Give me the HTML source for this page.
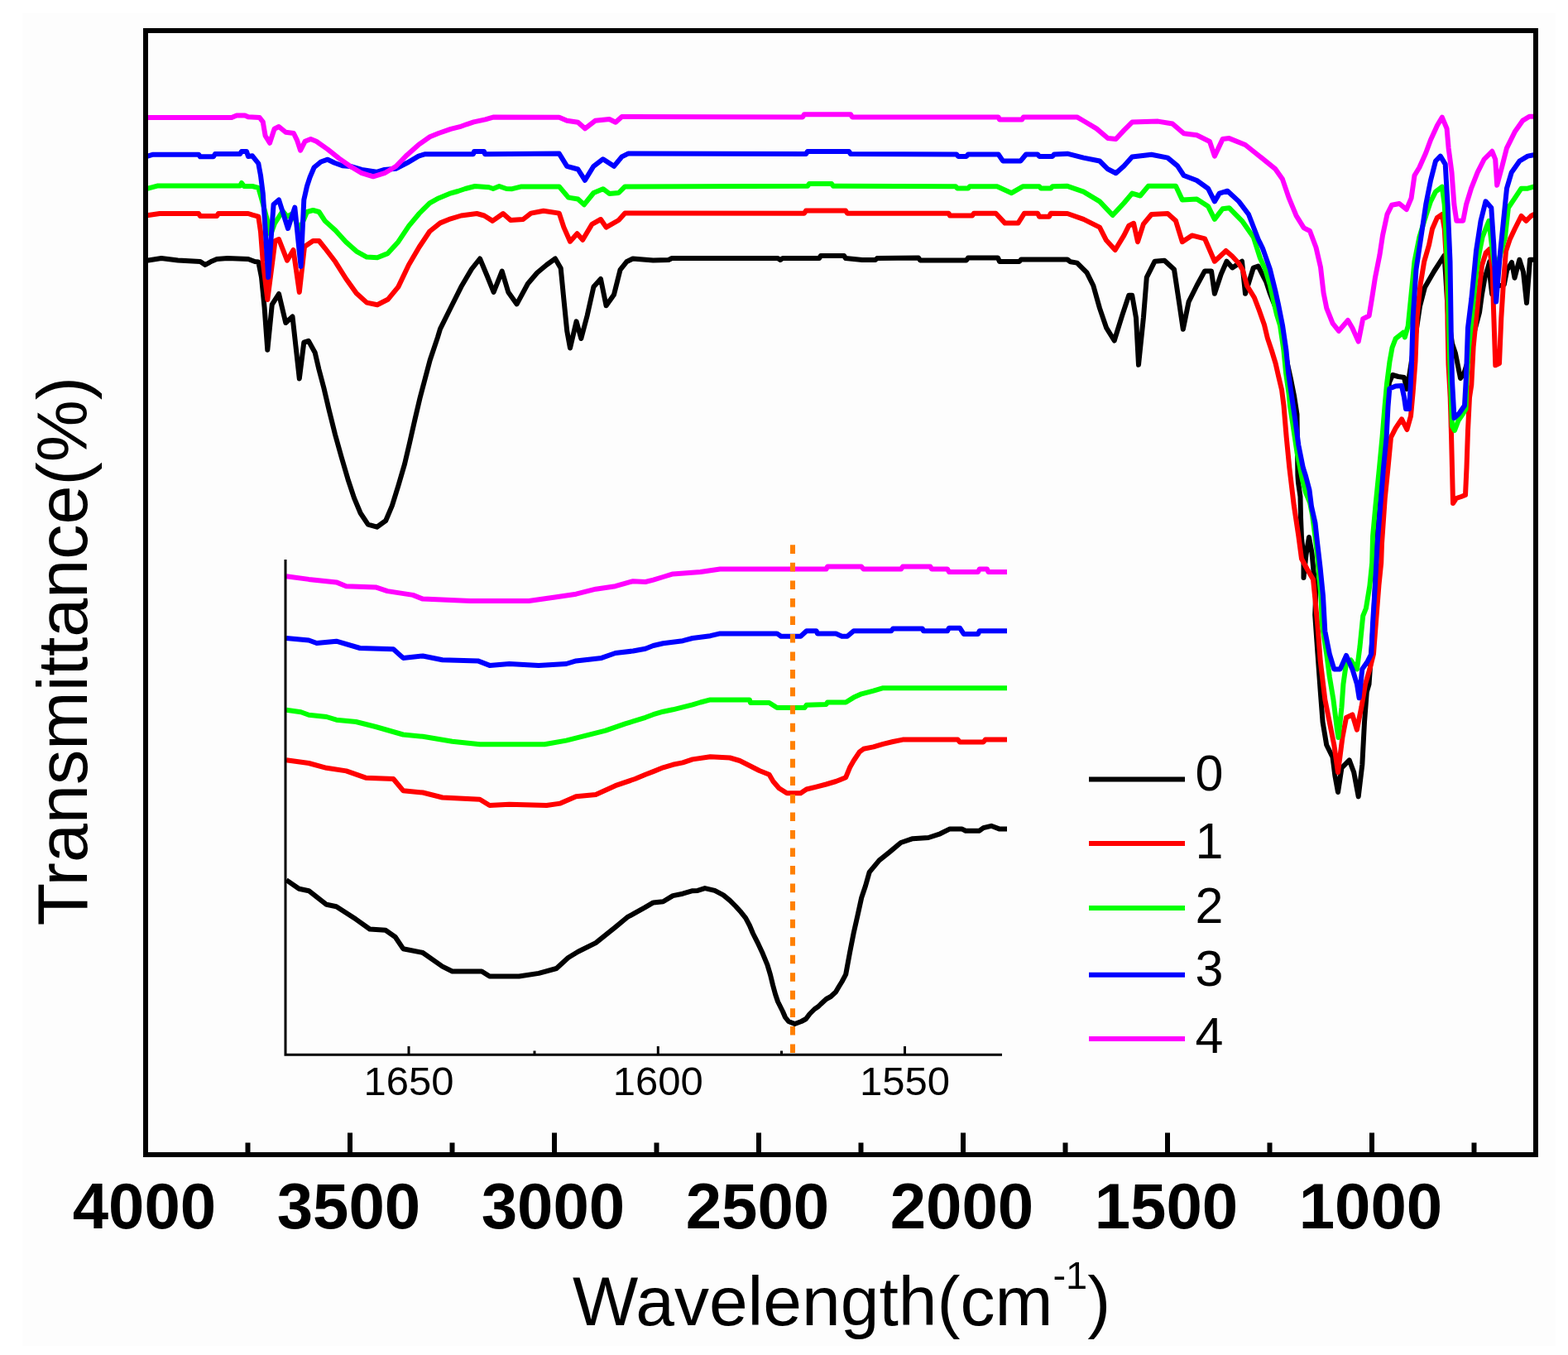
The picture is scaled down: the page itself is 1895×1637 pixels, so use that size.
<!DOCTYPE html>
<html><head><meta charset="utf-8"><title>FTIR spectra</title>
<style>html,body{margin:0;padding:0;background:#fff;width:1895px;height:1637px;overflow:hidden}svg{display:block}</style>
</head><body>
<svg width="1895" height="1637" viewBox="0 0 1895 1637" font-family="'Liberation Sans', Arial, sans-serif"><rect x="27" y="16" width="1853" height="1610" fill="#fdfdfd"/>
<polyline points="176,315 195,312 215,314.5 242,316 248,320 255,316 262,313 275,312 300,313 308,316 312.3,316.5 316,335 319.6,371.5 323.3,422.7 328.8,367.8 337,355 345.3,390 353.5,382.5 361.8,457.5 367.3,413.6 372.8,411.8 380.7,426 385.3,445.8 391.4,468.7 397.5,494.7 405.1,525.2 412.8,552.7 420.4,578.7 428,601.6 435.7,620 444.8,633.7 455.5,636.7 466.2,629 473.9,610.8 481.5,586.3 489.1,560.4 495.2,534.4 501.4,507 507.5,481 513.6,458 519.7,435 528.9,407.6 532,397.3 544.6,372 557.3,346.6 570,325 580,312.5 589,334 596.6,353 606.7,327.6 614.3,353 624.6,367.4 637.9,342.8 649.2,329.5 660.6,320 671,312.5 677.7,323.9 681.4,361.7 685.2,399.6 689,420.5 696.6,388.3 702.3,409 709.8,380.7 717.4,346.6 726,337 732.6,369.3 742,356 749.6,325.8 757.2,316.3 764.8,312.5 789.4,314.4 808,314 812,312 940,312 943,314 946,312 990,312 992,309 1020,309 1022,312 1042,314 1058,314 1060,312 1110,311.5 1112,314.4 1168,314.4 1170,311.5 1206,311.5 1208,316 1232,316 1234,313.5 1290,313.5 1293.7,316.3 1301.7,317.6 1313.5,329.4 1321.3,345 1329,372.4 1337,395.8 1346.7,411.5 1356.5,380.2 1364.3,356.7 1368.2,356.7 1373,384 1376,440.8 1381.9,384 1385.8,335.2 1395.6,315.7 1407.3,314.7 1419,325.5 1424.9,364.6 1429.8,397.8 1436.6,364.6 1446.4,345 1456,327.4 1464,327.4 1467.9,354.8 1475.7,331.3 1482.5,315.7 1489.4,323.5 1501,315.7 1505,354.8 1514.8,323.5 1520.6,321.6 1530.4,341 1535,355 1541.6,371.7 1546,385 1549.5,400 1552.5,420 1556,440 1560,458 1564,478 1567.5,500.8 1568.4,574 1569,583 1571.5,600 1572,625 1573,650 1575.5,672 1575.5,698 1578.5,670 1582,649 1585.5,668 1587.5,690 1590.5,712 1589.2,743 1592.5,790 1595.8,836 1598.6,872.6 1603.2,900 1610.5,914.7 1613.3,936.7 1617,957 1621.5,927.6 1630.7,918.4 1636.2,933 1641.7,962.4 1646.3,924 1649,872.6 1651.8,836 1654.5,826.7 1660,750 1666.5,607 1672,530 1676,490 1679,462 1683,453 1690,455 1697,456 1700,470 1703,455 1710,410 1716,370 1722,347 1733,328 1745.5,308.7 1747,330 1750,380 1755,415 1759,427 1765,457 1769,452 1776,430 1782,400 1788,377.5 1791,355.4 1794.5,335.7 1798,324 1800.3,316 1801,337 1803.2,355.4 1806,340 1812,345 1817.8,343.8 1821.2,326.4 1827,317 1830.5,335.7 1836.3,313.7 1841,328.7 1845,366 1849,313.7 1853,313.7" fill="none" stroke="#000000" stroke-width="6" stroke-linejoin="round"/>
<polyline points="176,260.5 193,258 240,258 242,261 262,261 264,258 300,258 305,259.7 312.3,261.6 315,280 317.8,316.5 323.3,362 332.5,291 337,289 347,314.7 354.5,302 361.8,353 368,298 378.3,291 385.6,291 392.7,299.8 405.3,316.3 418,336.5 430.7,354.2 443.3,365.6 456,368.2 468.7,361.8 481.3,346.6 494,320 506.6,298.5 519.3,279.5 532,269.4 544.6,264.3 557.3,260.5 576.3,258 585.2,260.5 595.3,266.9 608,258 617,266 632.2,265 641.7,257.6 656.8,254.7 675.8,257.6 681.4,274.6 689,291.7 697.5,282.2 704.2,289.8 715.5,270.8 726,265 732.6,274.6 747.7,266 755.3,257.6 972,257.7 974,254.6 1022,254.6 1024,257.7 1146.5,257.7 1148,260.6 1175,260.6 1177,257.7 1203.5,257.7 1214.6,269.6 1230.4,269.6 1238,257.7 1254,257.7 1256,261.7 1268,261.7 1270,257.7 1290,258 1309.5,264.9 1329,274.6 1337,290.3 1347.7,302 1358.4,284.4 1364.3,272.7 1370.1,269.8 1375,292.2 1381.9,270.7 1391.6,259 1411.2,258 1421,266.8 1428.8,292.2 1440.5,284.4 1456,288.3 1467.9,315.7 1481.6,303 1489.4,309.8 1497,318 1501.8,326 1507,345 1515.9,359.5 1522,375.4 1528,392.5 1531.8,408.4 1536.7,423 1541.6,439 1545.2,454.8 1549,470.7 1551.5,490 1554.7,528.3 1558.3,565 1563.8,610.8 1569.3,647.4 1573,675 1580,688 1587,700 1590,730 1592.2,753.4 1595.8,799.2 1601.3,845 1606.8,872.6 1612.3,900 1617,933 1622.4,891 1627,867 1634.4,863.4 1639.9,881.7 1645.4,854.2 1650,826.7 1655.4,808.4 1660,790 1662.8,753.4 1666.4,707.5 1669.2,680 1670,656.6 1673.8,601.6 1677.5,565 1681,528.3 1686.6,517.3 1694,506.3 1700.4,519 1705,502.6 1707.7,473.3 1710.5,436.7 1712.5,384 1716.4,345 1721.3,315.6 1727,296 1731,276.5 1736.9,262.9 1742.8,259 1745.7,276.5 1748.6,325.4 1749.6,393.8 1750.5,440 1752.7,480 1754,525 1756,608 1760,602 1766,600 1771,598 1772.5,565 1774,520 1776,480 1778.3,465 1780.6,419.3 1784,384.4 1787.6,349.6 1791,320.6 1795.7,305.5 1800.3,301 1803.8,326.4 1805,373 1807.3,441.3 1812,439 1814.3,384.4 1817.2,338 1820,303.2 1824.7,289.3 1830.7,276.5 1838.5,261 1844.4,266.8 1850.2,261 1856,258" fill="none" stroke="#ff0000" stroke-width="6" stroke-linejoin="round"/>
<polyline points="176,228.4 190,224.6 290,224.6 292,221 295,225 305,225 312.3,226.8 316,239.6 323.3,267 327,283.5 332,270 341.6,255 347,261.6 354,258 361.8,278 371,256 378.3,254 385.6,256 392.7,266.9 405.3,278.3 418,292.2 430.7,303.6 443.3,310.6 456,311.2 468.7,306.1 481.3,292.2 494,273.2 506.6,258 519.3,245.3 530,239.4 543.2,233.9 553.5,231 562.3,228 574,225 591,226.2 596,228 603.3,225 612,228 619,228.2 630.3,225.4 675.8,225.4 687,238.6 698.5,240.5 706,247.2 717.4,233 728.8,228.2 736.4,233.9 747.7,233 755.3,225.4 976,224.8 978,222 1005,222 1007,224.8 1155,225.3 1157,227.6 1170,227.6 1172,225.3 1205,225.3 1222.5,233.2 1236,225.3 1256,225.3 1258,227.6 1270,227.6 1272,225.3 1290,224.8 1309.5,231.6 1329,243.4 1344.7,260 1358.4,245.3 1368.2,233.6 1378,236.5 1387.7,224.8 1421,224.8 1428.8,241.4 1446.4,240.4 1460,249.2 1467.9,264.9 1477.6,252.2 1485.5,251.2 1501,266.8 1514.8,286.4 1523,312 1529,325 1535,345 1539.5,365 1543,380 1547,393 1551.4,423 1554,450 1557.5,475 1559,490 1567.5,546.6 1569.5,557 1574,580 1578,595 1583,607 1586,622 1589,645 1592,670 1594.5,700 1596.5,720 1597.7,753.4 1603.2,790 1606.8,817.5 1611.4,845 1616,881.7 1617.5,891 1621.5,854.2 1623.4,826.7 1627,801 1632.5,797.4 1640,808.4 1643.5,781 1647.2,744.2 1650.9,735 1655.4,707.5 1658.2,680 1659.1,647.4 1662.5,610 1664.5,590 1667,565 1670.5,528 1673.5,491.6 1676,464 1679.5,436.7 1682.5,420 1686.6,409.2 1695.8,401.8 1697.8,407.4 1701.7,393.8 1705.6,354.7 1709.5,315.6 1715.4,286.3 1721.3,266.8 1729,243.3 1735,231.6 1742.8,225.7 1745.7,247.2 1747.6,286.3 1749.6,335.2 1752,430 1753,460 1755,515 1758,520 1762.5,508 1768,500 1771.6,494 1772.4,460 1775,420 1780,370 1784,330 1787.7,305.8 1791.6,286.3 1799.4,266.8 1803.3,300 1806,320 1812,312 1819,286.3 1822.9,251 1830.7,239.4 1838.5,227.7 1846.3,227.7 1856,224.8" fill="none" stroke="#00ff00" stroke-width="6" stroke-linejoin="round"/>
<polyline points="176,189.3 185,186.7 240,186.7 242,189.3 258,189.3 260,186 290,186 292,183 298,183 300,189 305,188.3 312.3,197.5 315,212 317.8,234 320.6,276 324.2,335 330.6,247 337,241.4 348,276 356.3,250.6 363.6,322 367.3,241.4 371,225 374.6,214 379.6,202.3 387.8,195.5 396,192.7 404.3,196.8 413.9,200.3 423.5,201 437.2,205 455,207.8 464.7,205 478.4,203.7 492,196.8 505.8,188.6 514,186.2 572,186.2 573,183 585,183 586,186.2 675.8,185.6 685.2,200.8 698.5,204.5 707,217.8 717.4,200.8 728.8,192.2 742,200.8 751.5,189.4 759,185.6 974,186 976,183 1026,183 1028,186 1156,186.5 1158,188.9 1168,188.9 1170,186.5 1206.6,186.5 1212,194.4 1233.5,194.4 1240,186.5 1254,186.5 1256,188.9 1272,188.9 1274,186.5 1290,185.7 1309.5,190.6 1329,194.5 1338.9,204.3 1348.6,209.2 1358.4,200.4 1368.2,189.6 1391.6,186.7 1411.2,190.6 1423,200.4 1430.7,212 1446.4,218 1460,227.7 1467.9,243.4 1473.7,233.6 1483.5,230.7 1497.2,243.4 1509,259 1520.6,289 1526,300 1534.8,325 1541,350 1545,368 1550,393 1554.4,423 1557,450 1560.5,475 1565.7,510 1569.3,537.5 1574.8,565 1578,575 1582.5,592 1585,612 1589.5,632 1592,655 1595.5,685 1599,720 1601.3,762.5 1606.8,790 1612.3,808.4 1619.7,808.4 1627,791.9 1634.4,808.4 1640,826.7 1642.6,843.2 1646.3,808.4 1652.7,799.2 1657.3,790 1659,753.4 1661.9,707.5 1664.6,656.6 1668.3,610.8 1672,565 1675.6,528.3 1677.5,491.6 1679.3,469.6 1686.6,466.5 1694,466 1697,480 1699,494 1703,494 1704.5,470 1706,440 1707.6,384 1711.5,325.4 1717.4,286.3 1723.2,247.2 1729,218 1735,194.5 1740.8,188.6 1746.7,198.4 1749.6,247.2 1752.5,315.6 1754,419.3 1755,460 1757.5,505 1763,500 1770,490 1772,454 1774,396 1778.3,361.2 1781.8,326.4 1784,303.2 1789.6,266.8 1795.5,243.3 1802.3,251 1805.3,296 1808.2,364.5 1813,305.8 1817,266.8 1821,227.7 1826.8,208.2 1836.5,194.5 1846.3,188.6 1856,186.7" fill="none" stroke="#0000ff" stroke-width="6" stroke-linejoin="round"/>
<polyline points="176,142 280,142 286,139.5 296,139.5 300,141.3 313.7,142 317.8,147.4 320.6,164 326,172.8 331.6,155.7 337,153 345.3,159.8 354.9,161 359,169.4 363.1,181.7 368.6,170.8 375.5,168 382.3,170.8 396,180.4 409.8,191.4 423.5,201 437.2,209.2 451,213.3 464.7,209.2 478.4,201 492,187.2 505.8,174.9 519.5,165.3 530,161 544.7,155.8 555.7,153.2 563.7,150.3 572.5,147.4 586.5,144.4 596,141.6 675.8,141.7 685.2,145.8 698.5,147.7 707,155.3 719.3,145.8 736.4,144 744,147.7 751.5,141.1 970,141.4 972,138.2 1028,138.2 1030,141.4 1206.6,141.4 1208,144.5 1235,144.5 1237,141.4 1301.6,141.4 1309.5,146 1325.2,155.4 1338.9,167 1348.6,168 1358.4,157.4 1368.2,147.6 1399.5,146.6 1417,149.5 1430.7,161.3 1446.4,163.2 1462,171 1467.9,188.6 1477.6,168.1 1485.5,167.1 1505,175 1524.6,190.6 1541,203.8 1550,216.6 1557.5,238.6 1566.6,260.6 1575.8,275.3 1583,279 1590.5,299 1596,322.9 1599.6,354 1603.3,372.3 1610.6,390.7 1618,399.8 1629,387 1634.4,396.2 1641.7,412.6 1647.2,385.2 1654.6,381.5 1658.2,359.5 1661.9,335.7 1667.4,308.2 1671,284.4 1676.5,258.8 1682,247.8 1691.2,246 1699.8,253 1705.6,239.4 1709.5,212 1715.4,202.3 1723.2,184.7 1729,169 1737,151.5 1742.8,141.7 1748.6,155.4 1750.6,178.8 1754.5,208.2 1757.4,247.2 1760.3,266.8 1768.2,266.8 1772,247.2 1778,227.7 1785.7,208.2 1793.6,192.5 1803.3,182.8 1807.2,192.5 1809.2,223.8 1815,202.3 1821,178.8 1830.7,159.3 1840.4,145.6 1848.3,140.7 1856,140.7" fill="none" stroke="#ff00ff" stroke-width="6" stroke-linejoin="round"/>
<polyline points="346,696.3 373.2,699.9 406.5,703.4 418.4,708.2 454,709.4 468.2,714.1 499,718.9 511,723.6 568,726 639.2,726 672.5,721.2 696.2,717.7 720,711.7 743.7,708.2 765,702.2 780,703 789.5,700.6 801.4,697 813.2,693.4 846.5,691 870.2,687.5 998.5,687.5 1000,684.6 1041,684.6 1043.6,687.5 1089,687.5 1091,684.6 1124.3,684.6 1126,687.5 1145,687.5 1147,691 1182,691 1183.7,687.5 1193,687.5 1194.4,691 1217,691" fill="none" stroke="#ff00ff" stroke-width="6" stroke-linejoin="round"/>
<polyline points="346,771 373.2,773.5 382.7,777 406.5,774.7 435,783 475.4,784.2 487.2,794.9 511,792.5 534.7,797.2 577.5,798.4 591.7,803.9 615.5,802 651,803.9 684.3,802 696.2,798.4 727,794.9 743.7,789 765,786.5 780,783.7 789.5,780 801.4,777.3 825.1,774.2 837,771 858.4,768.2 870.2,765.4 939.1,765.4 943.9,768.7 967.6,768.7 974.7,762.3 986.6,762.3 988,765.4 1010.3,765.4 1017.5,768.7 1024,768.7 1031.7,762.3 1077,762.3 1079.2,759.5 1114.8,759.5 1116,762.3 1145,762.3 1146.9,758.7 1160,758.7 1164.7,765.9 1182,765.9 1183.7,762.3 1217,762.3" fill="none" stroke="#0000ff" stroke-width="6" stroke-linejoin="round"/>
<polyline points="346,857.8 363.7,860.2 373.2,863.7 394.6,866 406.5,869.7 430.2,872 454,878 487.2,887.5 511,889.8 546.6,895.8 579.9,899.3 658.2,899.3 684.3,894.6 708.1,888.7 731.8,882.7 755.6,874.4 780,866.8 789.5,863.2 801.4,859.7 813.2,857.3 825.1,854.4 837,851.4 846.5,848.5 858.4,845.4 905.9,845.4 907,849 929.6,849 939.1,855 972.4,855 974.7,851.8 998.5,850.9 1000,848.5 1022.2,848.5 1031.7,842.6 1041.2,838.3 1055.5,834.7 1067.3,831.2 1217,831.2" fill="none" stroke="#00ff00" stroke-width="6" stroke-linejoin="round"/>
<polyline points="346,918.3 373.2,922 394.6,927.8 418.4,931.4 442,939.7 475.4,941 487.2,955.2 511,957.5 534.7,963.5 579.9,965.8 591.7,973 615.5,971.8 660.6,973 677.2,970.6 696.2,962.3 720,960 743.7,949.2 767.5,941 780,935.7 789.5,932.1 801.4,927.3 813.2,923.8 825.1,921.4 837,917.4 858.4,914.3 882.1,915.5 894,919 905.9,925 917.7,931 929.6,935.7 934.4,944 941.5,952.3 951,958.2 967.6,958.2 974.7,953.5 986.6,950.6 998.5,947.5 1010.3,944 1022.2,939.2 1027,927.3 1031.7,919 1038.8,908.3 1043.6,904.8 1055.5,902.4 1067.3,898.8 1079.2,896 1091,893.6 1157.6,893.6 1160,896.5 1188.5,896.5 1190.8,893.6 1217,893.6" fill="none" stroke="#ff0000" stroke-width="6" stroke-linejoin="round"/>
<line x1="958" y1="658.3" x2="958" y2="1273.2" stroke="#ff8000" stroke-width="6" stroke-dasharray="10.6 10.94"/>
<polyline points="346,1063.1 361.4,1073.8 373.2,1076.2 394.6,1092.8 406.5,1095.2 430.2,1110.6 446.9,1122.5 465.9,1123.7 477.7,1132 487.2,1146.2 511,1151 534.7,1167.6 546.6,1173.5 582.2,1173.5 591.7,1179.5 627.3,1179.5 651.1,1175.9 672.5,1170 686.7,1157 698.6,1149.8 720,1139.1 743.7,1120.1 758,1108.2 779.3,1096.4 789.5,1090.4 801.4,1089.2 813.2,1082.1 825.1,1079.7 837,1076.2 843.2,1075.9 851.9,1073.1 863.8,1075.9 874.2,1081.4 882.1,1087.8 889.2,1095 895.6,1102.1 901.2,1109.2 905.9,1118 909.9,1127.5 915.5,1138.6 921.8,1152.1 927.4,1165.6 931,1177.6 934,1190 937,1201 940,1210 943,1216 946,1222 949,1229 953,1234 960.5,1237 968.5,1234 974,1231 978.5,1225 984.5,1219 989,1216 992,1213 998.5,1207 1004,1204 1010,1198.5 1013.5,1192.5 1017.5,1186 1022.2,1177.1 1027,1151 1031.7,1127.2 1036.5,1105.9 1041.2,1084.5 1046,1070.2 1050.7,1053.6 1062.6,1039.4 1074.5,1029.9 1088.7,1018 1103,1013.2 1122,1012 1136.2,1007.3 1148,1001.4 1162.3,1001.4 1167,1003.7 1183.7,1003.7 1188.5,1000.2 1198,997.8 1207.5,1001.4 1217,1001.4" fill="none" stroke="#000000" stroke-width="6" stroke-linejoin="round"/>
<path d="M345,676 V1274.3 H1211" fill="none" stroke="#000" stroke-width="3"/>
<line x1="494" y1="1264" x2="494" y2="1274" stroke="#000" stroke-width="3"/>
<line x1="795.3" y1="1264" x2="795.3" y2="1274" stroke="#000" stroke-width="3"/>
<line x1="1093.5" y1="1264" x2="1093.5" y2="1274" stroke="#000" stroke-width="3"/>
<line x1="646" y1="1269.5" x2="646" y2="1274" stroke="#000" stroke-width="3"/>
<line x1="944.5" y1="1269.5" x2="944.5" y2="1274" stroke="#000" stroke-width="3"/>
<text x="494" y="1323" font-size="49" text-anchor="middle">1650</text>
<text x="795.3" y="1323" font-size="49" text-anchor="middle">1600</text>
<text x="1093.5" y="1323" font-size="49" text-anchor="middle">1550</text>
<rect x="176" y="37" width="1680" height="1358" fill="none" stroke="#000" stroke-width="6"/>
<line x1="299.5" y1="1380.5" x2="299.5" y2="1395" stroke="#000" stroke-width="6"/>
<line x1="423.0" y1="1368.5" x2="423.0" y2="1395" stroke="#000" stroke-width="6"/>
<line x1="546.5" y1="1380.5" x2="546.5" y2="1395" stroke="#000" stroke-width="6"/>
<line x1="670.0" y1="1368.5" x2="670.0" y2="1395" stroke="#000" stroke-width="6"/>
<line x1="793.5" y1="1380.5" x2="793.5" y2="1395" stroke="#000" stroke-width="6"/>
<line x1="917.0" y1="1368.5" x2="917.0" y2="1395" stroke="#000" stroke-width="6"/>
<line x1="1040.5" y1="1380.5" x2="1040.5" y2="1395" stroke="#000" stroke-width="6"/>
<line x1="1164.0" y1="1368.5" x2="1164.0" y2="1395" stroke="#000" stroke-width="6"/>
<line x1="1287.5" y1="1380.5" x2="1287.5" y2="1395" stroke="#000" stroke-width="6"/>
<line x1="1411.0" y1="1368.5" x2="1411.0" y2="1395" stroke="#000" stroke-width="6"/>
<line x1="1534.5" y1="1380.5" x2="1534.5" y2="1395" stroke="#000" stroke-width="6"/>
<line x1="1658.0" y1="1368.5" x2="1658.0" y2="1395" stroke="#000" stroke-width="6"/>
<line x1="1781.5" y1="1380.5" x2="1781.5" y2="1395" stroke="#000" stroke-width="6"/>
<text x="174.5" y="1484" font-size="78" font-weight="bold" text-anchor="middle">4000</text>
<text x="421.5" y="1484" font-size="78" font-weight="bold" text-anchor="middle">3500</text>
<text x="668.5" y="1484" font-size="78" font-weight="bold" text-anchor="middle">3000</text>
<text x="915.5" y="1484" font-size="78" font-weight="bold" text-anchor="middle">2500</text>
<text x="1162.5" y="1484" font-size="78" font-weight="bold" text-anchor="middle">2000</text>
<text x="1409.5" y="1484" font-size="78" font-weight="bold" text-anchor="middle">1500</text>
<text x="1656.5" y="1484" font-size="78" font-weight="bold" text-anchor="middle">1000</text>
<line x1="1316" y1="941.6" x2="1432" y2="941.6" stroke="#000000" stroke-width="6"/>
<text x="1461.5" y="955" font-size="61" text-anchor="middle">0</text>
<line x1="1316" y1="1019" x2="1432" y2="1019" stroke="#ff0000" stroke-width="6"/>
<text x="1461.5" y="1037" font-size="61" text-anchor="middle">1</text>
<line x1="1316" y1="1097" x2="1432" y2="1097" stroke="#00ff00" stroke-width="6"/>
<text x="1461.5" y="1114.5" font-size="61" text-anchor="middle">2</text>
<line x1="1316" y1="1177.7" x2="1432" y2="1177.7" stroke="#0000ff" stroke-width="6"/>
<text x="1461.5" y="1191" font-size="61" text-anchor="middle">3</text>
<line x1="1316" y1="1255" x2="1432" y2="1255" stroke="#ff00ff" stroke-width="6"/>
<text x="1461.5" y="1272" font-size="61" text-anchor="middle">4</text>
<text transform="translate(105,786.8) rotate(-90)" font-size="84.5" text-anchor="middle">Transmittance(%)</text>
<text x="692" y="1601" font-size="84">Wavelength(cm<tspan font-size="47" dy="-44">-1</tspan><tspan dy="44">)</tspan></text></svg>
</body></html>
